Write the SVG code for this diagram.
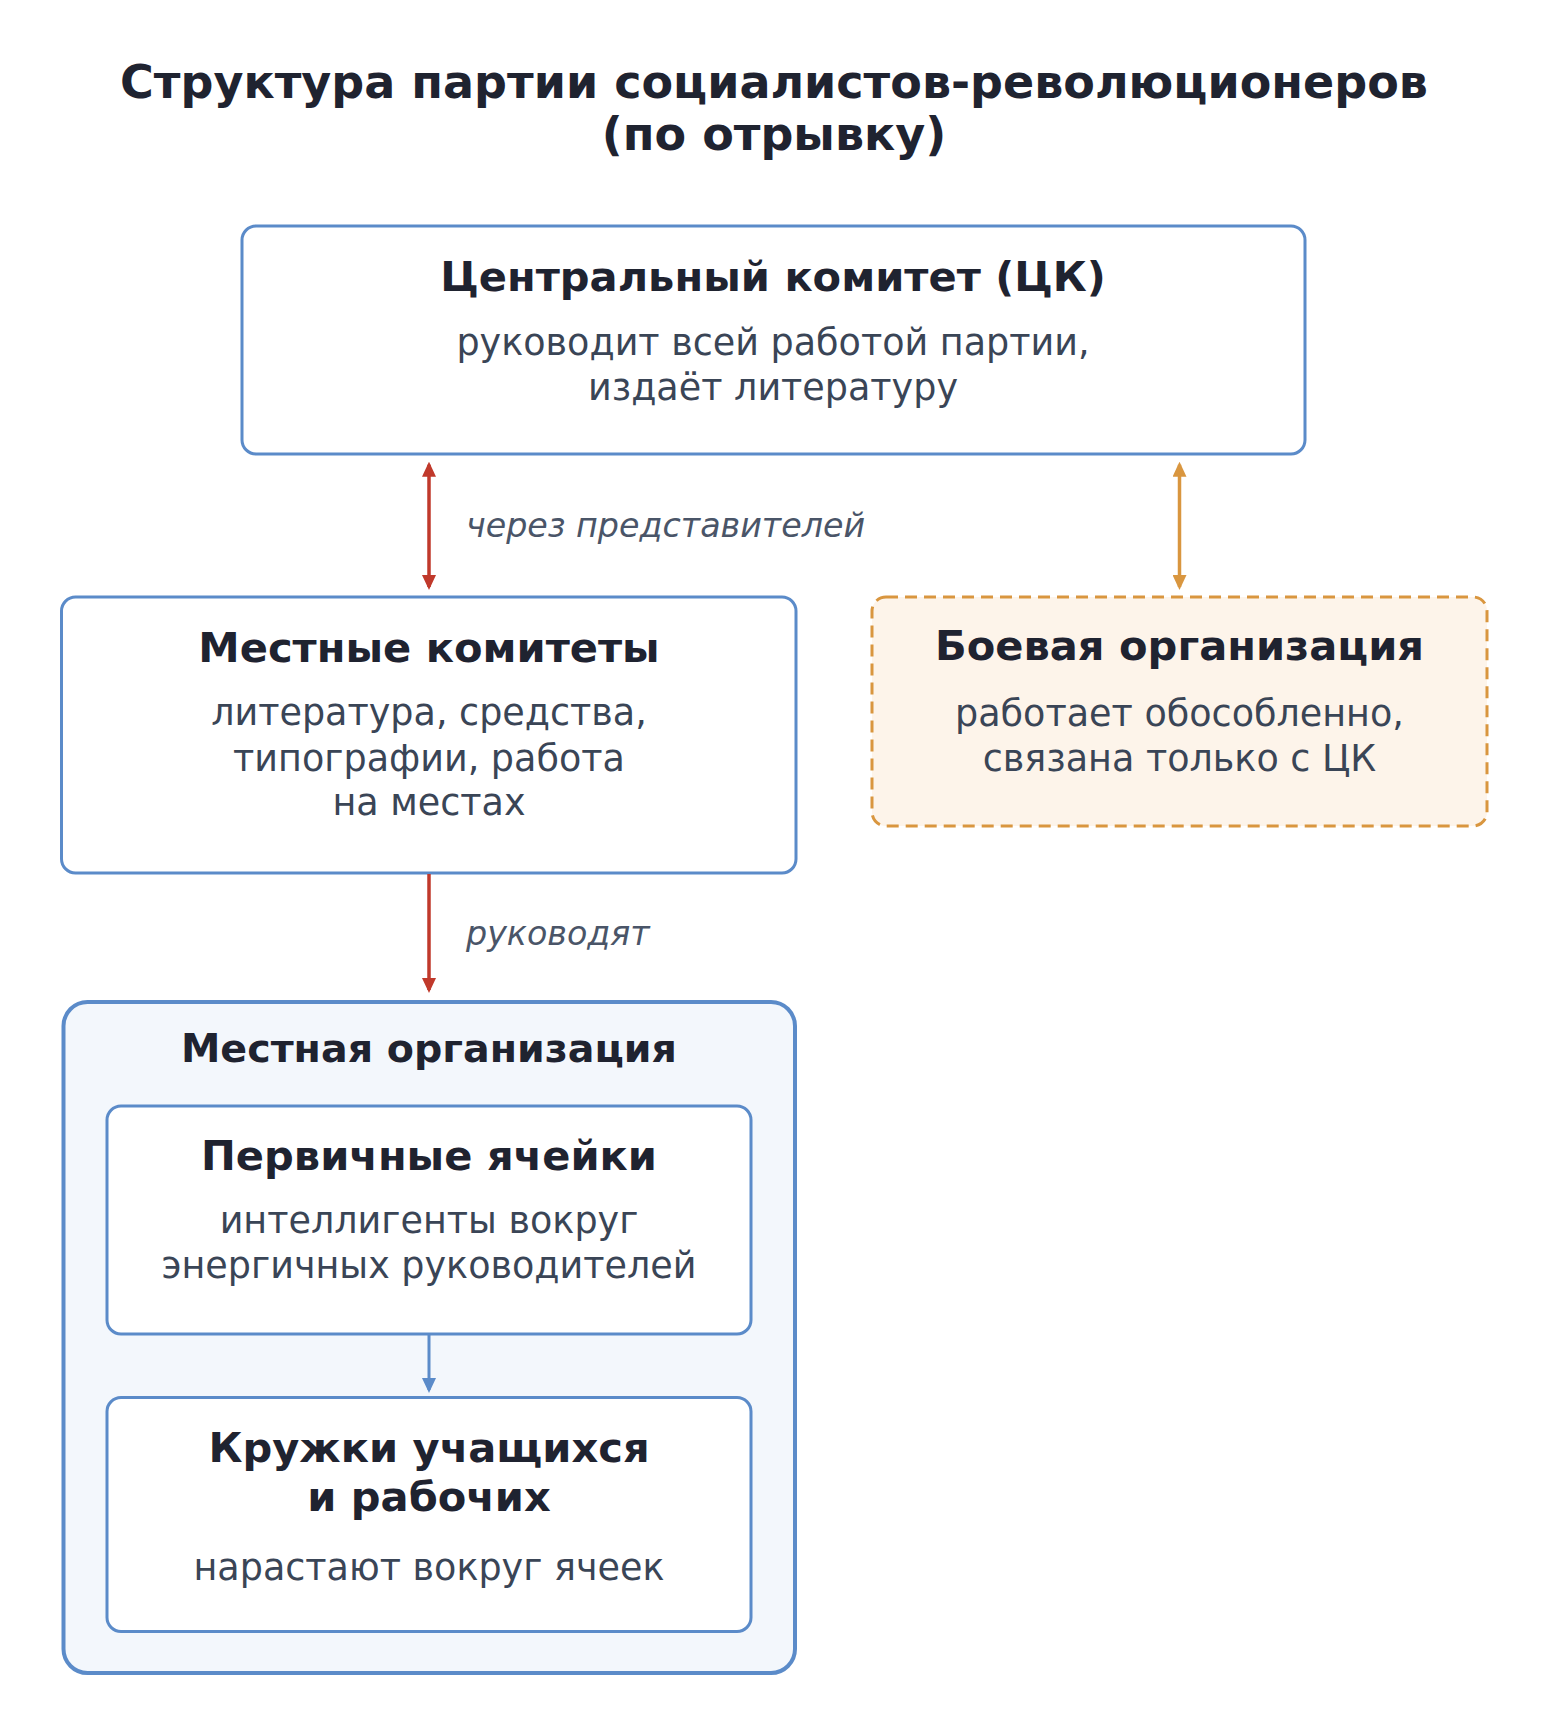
<svg xmlns="http://www.w3.org/2000/svg" width="1548" height="1715" viewBox="0 0 1548 1715">
<style>
.title{font-family:"DejaVu Sans","Noto Sans",sans-serif;font-weight:bold;font-size:46px;fill:#1f2330;text-anchor:middle}
.nt{font-family:"DejaVu Sans","Noto Sans",sans-serif;font-weight:bold;font-size:41.6px;fill:#1f2330;text-anchor:middle}
.ns{font-family:"DejaVu Sans","Noto Sans",sans-serif;font-size:36.5px;fill:#3a4556;text-anchor:middle}
.lbl{font-family:"DejaVu Sans","Noto Sans",sans-serif;font-style:italic;font-size:33.3px;fill:#4a5568}
.box{fill:#ffffff;stroke:#5b8bc9;stroke-width:3}
.outer{fill:#f3f7fc;stroke:#5b8bc9;stroke-width:4}
.combat{fill:#fdf4ea;stroke:#d9963f;stroke-width:3;stroke-dasharray:12 7}
</style>
<defs>
<marker id="aRed" viewBox="0 0 15 14" refX="12" refY="7" markerWidth="15" markerHeight="14" markerUnits="userSpaceOnUse" orient="auto-start-reverse"><path d="M0,0 L15,7 L0,14 z" fill="#c0392b"/></marker>
<marker id="aOrange" viewBox="0 0 15 14" refX="12" refY="7" markerWidth="15" markerHeight="14" markerUnits="userSpaceOnUse" orient="auto-start-reverse"><path d="M0,0 L15,7 L0,14 z" fill="#d9963f"/></marker>
<marker id="aBlue" viewBox="0 0 15 14" refX="12" refY="7" markerWidth="15" markerHeight="14" markerUnits="userSpaceOnUse" orient="auto-start-reverse"><path d="M0,0 L15,7 L0,14 z" fill="#5b8bc9"/></marker>
</defs>
<rect width="1548" height="1715" fill="#ffffff"/>
<g id="title">
<text class="title" x="774" y="98">Структура партии социалистов-революционеров</text>
<text class="title" x="774" y="150">(по отрывку)</text>
</g>
<g id="node-ck">
<rect class="box" x="242" y="226" width="1063" height="228" rx="14"/>
<text class="nt" x="773" y="291">Центральный комитет (ЦК)</text>
<text class="ns" x="773" y="355">руководит всей работой партии,</text>
<text class="ns" x="773" y="400">издаёт литературу</text>
</g>
<g id="node-local-committees">
<rect class="box" x="61.5" y="597" width="734.5" height="276" rx="14"/>
<text class="nt" x="429" y="661.5">Местные комитеты</text>
<text class="ns" x="429" y="725">литература, средства,</text>
<text class="ns" x="429" y="771">типографии, работа</text>
<text class="ns" x="429" y="815">на местах</text>
</g>
<g id="node-combat">
<rect class="combat" x="872" y="597" width="615" height="229" rx="14"/>
<text class="nt" x="1179.5" y="660">Боевая организация</text>
<text class="ns" x="1179.5" y="726">работает обособленно,</text>
<text class="ns" x="1179.5" y="771">связана только с ЦК</text>
</g>
<g id="node-local-org">
<rect class="outer" x="63.5" y="1002" width="731.5" height="671" rx="24"/>
<text class="nt" x="429" y="1061.5" style="font-size:39.6px">Местная организация</text>
</g>
<g id="node-cells">
<rect class="box" x="107" y="1106" width="644" height="228" rx="14"/>
<text class="nt" x="429" y="1170">Первичные ячейки</text>
<text class="ns" x="429" y="1233">интеллигенты вокруг</text>
<text class="ns" x="429" y="1278">энергичных руководителей</text>
</g>
<g id="node-circles">
<rect class="box" x="107" y="1397.5" width="644" height="234" rx="14"/>
<text class="nt" x="429" y="1461.5">Кружки учащихся</text>
<text class="nt" x="429" y="1510.5">и рабочих</text>
<text class="ns" x="429" y="1580">нарастают вокруг ячеек</text>
</g>
<g id="connectors">
<line x1="429" y1="464.7" x2="429" y2="587" stroke="#c0392b" stroke-width="3.5" marker-start="url(#aRed)" marker-end="url(#aRed)"/>
<text class="lbl" x="466" y="537">через представителей</text>
<line x1="1179.5" y1="464.7" x2="1179.5" y2="587" stroke="#d9963f" stroke-width="3.5" marker-start="url(#aOrange)" marker-end="url(#aOrange)"/>
<line x1="429" y1="874" x2="429" y2="990" stroke="#c0392b" stroke-width="3.5" marker-end="url(#aRed)"/>
<text class="lbl" x="466" y="945">руководят</text>
<line x1="429" y1="1335" x2="429" y2="1390" stroke="#5b8bc9" stroke-width="3" marker-end="url(#aBlue)"/>
</g>
</svg>
